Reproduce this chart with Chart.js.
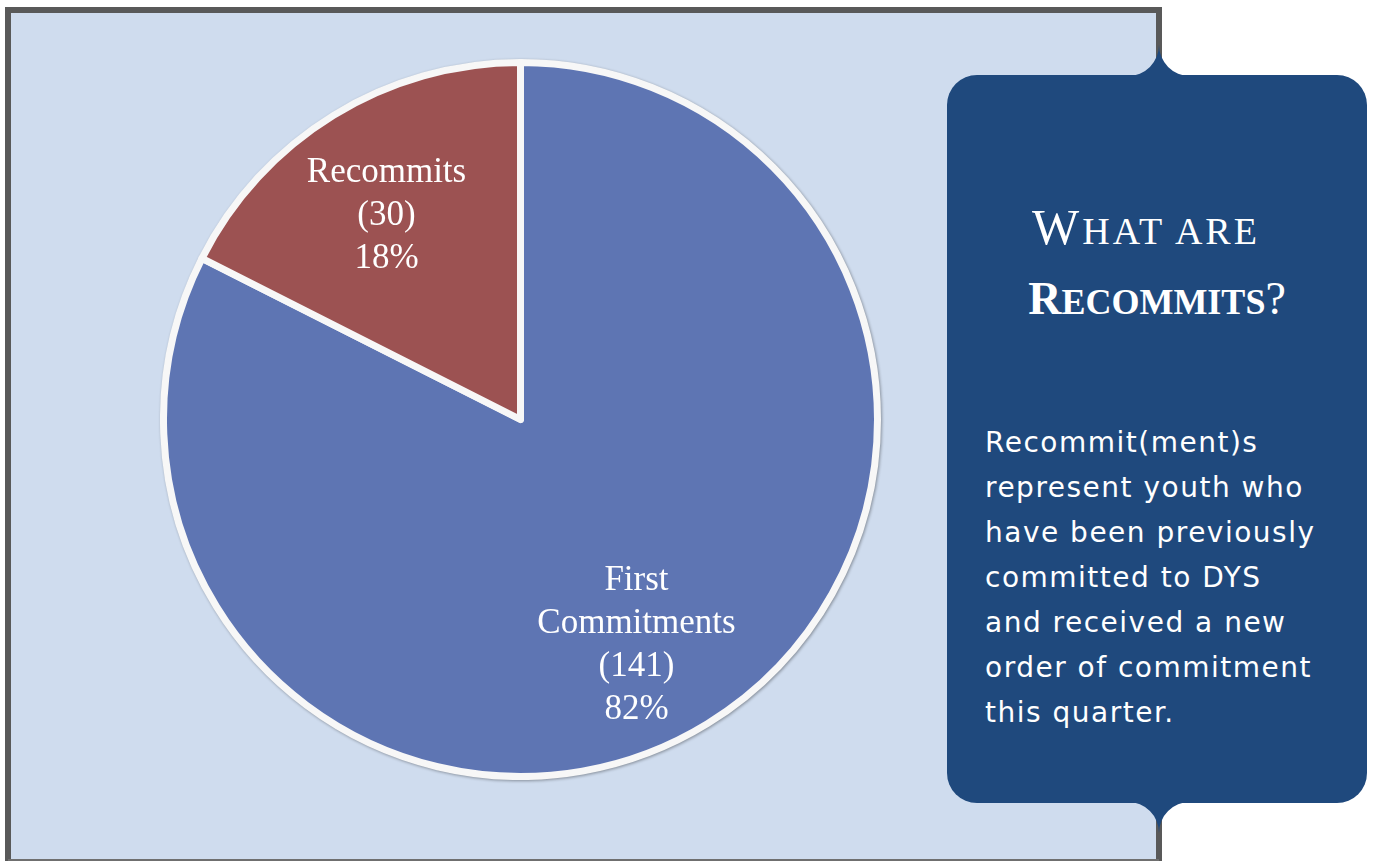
<!DOCTYPE html>
<html lang="en">
  <head>
    <meta charset="UTF-8" />
    <title>First Commitments vs Recommits</title>
    <script src="https://cdn.jsdelivr.net/npm/chart.js@4.4.1/dist/chart.umd.min.js"></script>
    <style>
      body {
        margin: 0;
        width: 1377px;
        height: 861px;
        background: #ffffff;
        position: relative;
        overflow: hidden;
      }
      #frame {
        position: absolute;
        left: 0;
        top: 0;
      }
      #pieChart {
        position: absolute;
        left: 160px;
        top: 59px;
        filter: drop-shadow(1px 1px 1.5px rgba(0, 0, 0, 0.35));
      }
      .title {
        position: absolute;
        left: 947px;
        width: 420px;
        text-align: center;
        color: #ffffff;
        font-family: 'Liberation Serif', serif;
        text-transform: uppercase;
        line-height: 1;
      }
      .body-text {
        position: absolute;
        left: 985px;
        top: 420px;
        width: 380px;
        color: #ffffff;
        font-family: 'DejaVu Sans', sans-serif;
        font-size: 28px;
        letter-spacing: 1.5px;
        line-height: 45px;
        white-space: nowrap;
      }
    </style>
  </head>
  <body>
    <svg id="frame" width="1377" height="861">
      <rect x="11" y="13" width="1146" height="848" fill="#cfdcee" />
      <path d="M8 861 L8 10 L1159 10 L1159 60" fill="none" stroke="#595959" stroke-width="6" />
      <path d="M1159 820 L1159 861" fill="none" stroke="#595959" stroke-width="6" />
      <line x1="8" y1="860" x2="1159" y2="860" stroke="#6f6f6f" stroke-width="2" />
      <rect x="947" y="75" width="420" height="728" rx="30" ry="30" fill="#1f497d" />
      <path d="M1128 76 A31 31 0 0 0 1159 45 A31 31 0 0 0 1190 76 Z" fill="#1f497d" />
      <path d="M1128 802 A31 31 0 0 1 1159 833 A31 31 0 0 1 1190 802 Z" fill="#1f497d" />
    </svg>

    <canvas id="pieChart" width="721" height="721"></canvas>

    <div class="title" style="top: 202px; letter-spacing: 3px; padding-right: 22px; box-sizing: border-box">
      <span style="font-size: 50px">W</span><span style="font-size: 38px">hat are</span>
    </div>
    <div class="title" style="top: 276px; font-weight: bold">
      <span style="font-size: 46px">R</span><span style="font-size: 36px">ecommits</span><span style="font-size: 46px; font-weight: normal">?</span>
    </div>
    <div class="body-text">
      Recommit(ment)s<br />represent youth who<br />have been previously<br />committed to DYS<br />and received a new<br />order of commitment<br />this quarter.
    </div>

    <script>
      // data
      const categories = ['First Commitments', 'Recommits'];
      const counts = [141, 30];
      const percents = [82, 18];
      const nameLines = [['First', 'Commitments'], ['Recommits']];
      const colors = ['#5e75b3', '#9c5252'];

      const sliceLabels = {
        id: 'sliceLabels',
        afterDatasetsDraw(chart, args, opts) {
          const ctx = chart.ctx;
          const arcs = chart.getDatasetMeta(0).data;
          ctx.save();
          ctx.fillStyle = '#ffffff';
          ctx.font = '35px "Liberation Serif", serif';
          ctx.textAlign = 'center';
          ctx.textBaseline = 'middle';
          arcs.forEach((arc, i) => {
            const p = arc.getProps(['x', 'y', 'startAngle', 'endAngle', 'outerRadius'], true);
            const mid = (p.startAngle + p.endAngle) / 2;
            const r = p.outerRadius * 0.69;
            const shift = opts.shift[i];
            const cx = p.x + Math.cos(mid) * r + shift[0];
            const cy = p.y + Math.sin(mid) * r + shift[1];
            const lines = nameLines[i].concat(['(' + counts[i] + ')', percents[i] + '%']);
            const lh = 43;
            const top = cy - ((lines.length - 1) * lh) / 2;
            lines.forEach((t, j) => ctx.fillText(t, cx, top + j * lh));
          });
          ctx.restore();
        },
      };

      new Chart(document.getElementById('pieChart'), {
        type: 'pie',
        data: {
          labels: categories,
          datasets: [
            {
              data: counts,
              backgroundColor: colors,
              borderColor: '#f7f7f7',
              borderWidth: 7,
              borderJoinStyle: 'round',
            },
          ],
        },
        options: {
          responsive: false,
          animation: false,
          layout: { padding: 0 },
          plugins: {
            legend: { display: false },
            tooltip: { enabled: false },
            sliceLabels: { shift: [[-13, 16], [-5, 6]] },
          },
        },
        plugins: [sliceLabels],
      });
    </script>
  </body>
</html>
